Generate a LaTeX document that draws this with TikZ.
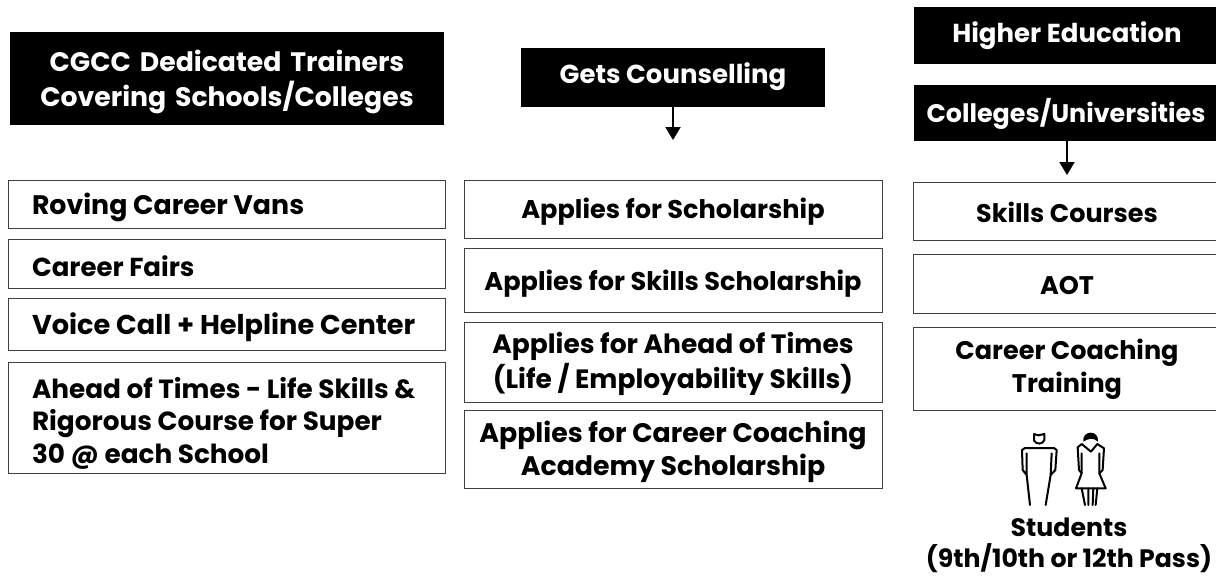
\documentclass[tikz,border=0pt]{standalone}
\usepackage{fontspec}
\setmainfont{Poppins}
\usetikzlibrary{arrows.meta}
\tikzset{
  every node/.style={inner sep=0pt, outer sep=0pt},
  fs/.style n args={2}{font=\fontsize{#1}{#2}\selectfont\bfseries},
  darkbox/.style={text=white, align=center},
  rowbox/.style={draw=black!75, line width=1pt, fill=white},
  flow/.style={draw=black, line width=2pt, -{Triangle[length=13pt,width=15pt]}},
  figline/.style={draw=black, line width=2pt, line join=round, line cap=round}
}
\begin{document}
\begin{tikzpicture}[x=1pt,y=-1pt]
\useasboundingbox (0,0) rectangle (1216,579);
\fill[black] (10,32) rectangle (444,125);
\node[darkbox, fs={26.7}{35}, text width=434pt] (h1) at (227,82) {CGCC Dedicated Trainers\\Covering Schools/Colleges};
\fill[black] (521,48) rectangle (825,107);
\node[darkbox, fs={26}{31}] (h2) at (673,77) {Gets Counselling};
\fill[black] (914,7) rectangle (1216,64);
\node[darkbox, fs={26}{31}] (h3) at (1067,36) {Higher Education};
\fill[black] (914,85) rectangle (1216,141);
\node[darkbox, fs={25.4}{31}] (h4) at (1066,114) {Colleges/Universities};
\coordinate (h2s) at (673,107);
\coordinate (h4s) at (1067,141);
\coordinate (a1) at (673,140);
\coordinate (a2) at (1067,175);
\draw[flow] (h2s) -- (a1);
\draw[flow] (h4s) -- (a2);
% left rows
\foreach \ya/\yb in {180/228,239/288,298/350,362/473}
  \draw[rowbox] (8,\ya) rectangle (445,\yb);
\node[anchor=west, fs={26.8}{32}] (l1) at (32,207) {Roving Career Vans};
\node[anchor=west, fs={26}{32}] (l2) at (32,266) {Career Fairs};
\node[anchor=west, fs={27.2}{32}] (l3) at (32,327) {Voice Call + Helpline Center};
\node[anchor=west, align=left, fs={26.3}{32.5}] (l4) at (32,423) {Ahead of Times - Life Skills \&\\Rigorous Course for Super\\30 @ each School};
% middle rows
\foreach \ya/\yb in {180/238,248/312,322/402,410/488}
  \draw[rowbox] (464,\ya) rectangle (882,\yb);
\node[fs={25.6}{31}] (m1) at (673,212) {Applies for Scholarship};
\node[fs={25.6}{31}] (m2) at (673,284) {Applies for Skills Scholarship};
\node[align=center, fs={26.5}{35}] (m3) at (673,364) {Applies for Ahead of Times\\(Life / Employability Skills)};
\node[align=center, fs={26.8}{33}] (m4) at (673,452) {Applies for Career Coaching\\Academy Scholarship};
% right rows
\foreach \ya/\yb in {182/240,254/313,327/410}
  \draw[rowbox] (913,\ya) -- (1216,\ya) (1216,\yb) -- (913,\yb) -- (913,\ya);
\node[fs={25.5}{33}] (r1) at (1067,212) {Skills Courses};
\node[fs={25.5}{33}] (r2) at (1067,286) {AOT};
\node[align=center, fs={25.5}{33}] (r3) at (1067,369) {Career Coaching\\Training};
\node[align=center, fs={25.2}{31}] (st) at (1069,545) {Students\\(9th/10th or 12th Pass)};
% figures
\begin{scope}[shift={(980,420)},x=0.3333pt,y=-0.3333pt]
 \draw[figline] (162,42) -- (162,62) .. controls (170,74) and (188,74) .. (193,60) -- (193,42) -- (175,46) -- (162,42);
 \draw[figline] (135,84) -- (222,84) (135,84) -- (126,90) -- (128,150) -- (140,165) (140,100) -- (140,165) -- (150,255);
 \draw[figline] (222,84) -- (230,90) -- (226,150) -- (212,165) (215,100) -- (212,165) -- (197,255);
 \fill[black] (310,65) .. controls (305,30) and (358,28) .. (354,65) .. controls (340,52) and (325,55) .. (310,65) -- cycle;
 \draw[figline] (305,72) -- (293,82) -- (297,150) -- (305,160) (305,72) -- (333,95) -- (352,72) -- (372,85) -- (368,150) -- (358,160);
 \draw[figline] (305,100) -- (305,160) -- (288,205) -- (377,205) -- (358,160) -- (358,100);
 \draw[figline] (305,205) -- (315,255) (325,205) -- (325,255) (340,205) -- (338,255) (352,205) -- (347,255);
\end{scope}
\end{tikzpicture}
\end{document}
